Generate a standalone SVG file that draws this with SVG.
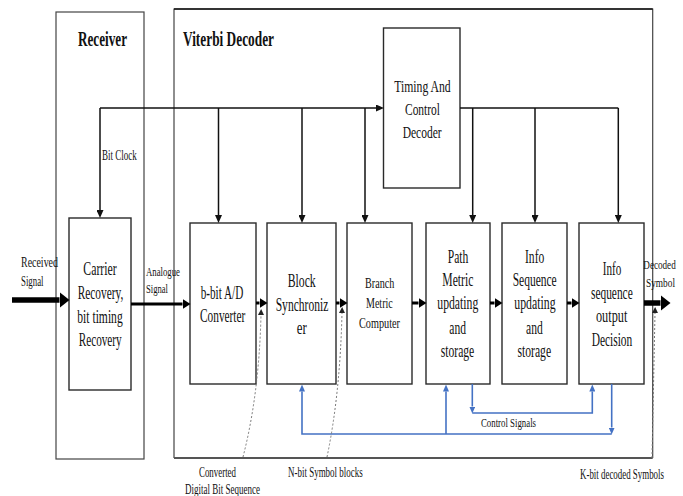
<svg xmlns="http://www.w3.org/2000/svg" width="683" height="496" viewBox="0 0 683 496">
  <style>
    text { font-family: "Liberation Serif", "Times New Roman", serif; fill: #111; }
    .head { font-size: 21px; font-weight: bold; }
    .main { font-size: 18px; }
    .mid { font-size: 15px; }
    .tc { font-size: 16px; }
    .lbl { font-size: 14px; }
    .sm { font-size: 13px; }
    .frame { fill: none; stroke: #444; stroke-width: 1.2; }
    .box { fill: #fff; stroke: #2a2a2a; stroke-width: 1.4; }
    .bus { fill: none; stroke: #111; stroke-width: 1.5; }
    .thick { fill: none; stroke: #000; stroke-width: 3; }
    .fat { fill: none; stroke: #000; stroke-width: 5.5; }
    .ctl { fill: none; stroke: #4472C4; stroke-width: 1.6; }
    .dot { fill: none; stroke: #777; stroke-width: 1; stroke-dasharray: 2 2; }
  </style>
  <defs>
    <marker id="a-s" markerUnits="userSpaceOnUse" markerWidth="8" markerHeight="7" refX="0" refY="3.5" orient="auto">
      <path d="M0,0 L8,3.5 L0,7 z" fill="#111"/>
    </marker>
    <marker id="a-m" markerUnits="userSpaceOnUse" markerWidth="8" markerHeight="10" refX="0" refY="5" orient="auto">
      <path d="M0,0 L8,5 L0,10 z" fill="#000"/>
    </marker>
    <marker id="a-l" markerUnits="userSpaceOnUse" markerWidth="10" markerHeight="16" refX="0" refY="8" orient="auto">
      <path d="M0,0 L10,8 L0,16 z" fill="#000"/>
    </marker>
    <marker id="a-b" markerUnits="userSpaceOnUse" markerWidth="7" markerHeight="6" refX="0" refY="3" orient="auto">
      <path d="M0,0 L7,3 L0,6 z" fill="#4472C4"/>
    </marker>
    <marker id="a-d" markerUnits="userSpaceOnUse" markerWidth="6" markerHeight="6" refX="0" refY="3" orient="auto">
      <path d="M0,0 L6,3 L0,6 z" fill="#222"/>
    </marker>
  </defs>

  <!-- enclosing frames -->
  <g id="receiver">
    <rect class="frame" x="56" y="12" width="88" height="447"/>
    <text class="head" x="78" y="46" textLength="49" lengthAdjust="spacingAndGlyphs">Receiver</text>
  </g>
  <g id="viterbi-decoder">
    <path d="M174,458 V9 H652.7 V458" fill="none" stroke="#444" stroke-width="1.2"/>
    <line x1="174" y1="9" x2="652.7" y2="9" stroke="#111" stroke-width="1.5"/>
    <line x1="174" y1="458" x2="652.7" y2="458" stroke="#555" stroke-width="2"/>
    <text class="head" x="183" y="46" textLength="91" lengthAdjust="spacingAndGlyphs">Viterbi Decoder</text>
  </g>

  <!-- processing blocks -->
  <g id="timing-control">
    <rect class="box" x="383.5" y="28" width="76.5" height="160"/>
    <text class="tc" x="394.3" y="92" textLength="56.4" lengthAdjust="spacingAndGlyphs">Timing And</text>
    <text class="tc" x="405" y="115" textLength="35" lengthAdjust="spacingAndGlyphs">Control</text>
    <text class="tc" x="402.7" y="138.3" textLength="39" lengthAdjust="spacingAndGlyphs">Decoder</text>
  </g>
  <g id="carrier-recovery">
    <rect class="box" x="69" y="218" width="62" height="172"/>
    <text class="main" x="83.3" y="275" textLength="33.4" lengthAdjust="spacingAndGlyphs">Carrier</text>
    <text class="main" x="77.7" y="299" textLength="45.6" lengthAdjust="spacingAndGlyphs">Recovery,</text>
    <text class="main" x="77.3" y="322.7" textLength="45.4" lengthAdjust="spacingAndGlyphs">bit timing</text>
    <text class="main" x="78.7" y="346" textLength="43" lengthAdjust="spacingAndGlyphs">Recovery</text>
  </g>
  <g id="ad-converter">
    <rect class="box" x="190" y="223" width="66" height="161"/>
    <text class="main" x="200.7" y="299.3" textLength="42.6" lengthAdjust="spacingAndGlyphs">b-bit A/D</text>
    <text class="main" x="200" y="321.7" textLength="45.3" lengthAdjust="spacingAndGlyphs">Converter</text>
  </g>
  <g id="block-synchronizer">
    <rect class="box" x="267" y="223" width="69" height="161"/>
    <text class="main" x="287.7" y="286.7" textLength="28" lengthAdjust="spacingAndGlyphs">Block</text>
    <text class="main" x="275.7" y="311" textLength="52.6" lengthAdjust="spacingAndGlyphs">Synchroniz</text>
    <text class="main" x="296.7" y="334" textLength="10" lengthAdjust="spacingAndGlyphs">er</text>
  </g>
  <g id="branch-metric">
    <rect class="box" x="347" y="223" width="65" height="161"/>
    <text class="mid" x="365" y="288.3" textLength="29.3" lengthAdjust="spacingAndGlyphs">Branch</text>
    <text class="mid" x="366" y="308.3" textLength="26.7" lengthAdjust="spacingAndGlyphs">Metric</text>
    <text class="mid" x="359" y="328.3" textLength="41" lengthAdjust="spacingAndGlyphs">Computer</text>
  </g>
  <g id="path-metric">
    <rect class="box" x="426" y="223" width="64" height="161"/>
    <text class="main" x="447.7" y="262.7" textLength="20.6" lengthAdjust="spacingAndGlyphs">Path</text>
    <text class="main" x="442.3" y="286" textLength="31" lengthAdjust="spacingAndGlyphs">Metric</text>
    <text class="main" x="437.3" y="309.3" textLength="41" lengthAdjust="spacingAndGlyphs">updating</text>
    <text class="main" x="449.3" y="334" textLength="16.7" lengthAdjust="spacingAndGlyphs">and</text>
    <text class="main" x="440.7" y="357.3" textLength="33.6" lengthAdjust="spacingAndGlyphs">storage</text>
  </g>
  <g id="info-sequence-update">
    <rect class="box" x="502" y="223" width="65" height="161"/>
    <text class="main" x="525" y="262.7" textLength="19.3" lengthAdjust="spacingAndGlyphs">Info</text>
    <text class="main" x="512.7" y="286" textLength="44" lengthAdjust="spacingAndGlyphs">Sequence</text>
    <text class="main" x="514.3" y="309.3" textLength="41.3" lengthAdjust="spacingAndGlyphs">updating</text>
    <text class="main" x="526" y="334" textLength="16.7" lengthAdjust="spacingAndGlyphs">and</text>
    <text class="main" x="517.5" y="357.3" textLength="33.6" lengthAdjust="spacingAndGlyphs">storage</text>
  </g>
  <g id="info-sequence-output">
    <rect class="box" x="579" y="223" width="65" height="161"/>
    <text class="main" x="602.7" y="275" textLength="18.6" lengthAdjust="spacingAndGlyphs">Info</text>
    <text class="main" x="591" y="299.3" textLength="41.7" lengthAdjust="spacingAndGlyphs">sequence</text>
    <text class="main" x="596" y="321.7" textLength="31.3" lengthAdjust="spacingAndGlyphs">output</text>
    <text class="main" x="591.7" y="346" textLength="40.6" lengthAdjust="spacingAndGlyphs">Decision</text>
  </g>

  <!-- connectors -->
  <g id="connectors">
    <!-- clock / timing bus -->
    <path class="bus" d="M100,108 H376" marker-end="url(#a-s)"/>
    <path class="bus" d="M100,108 V210" marker-end="url(#a-s)"/>
    <path class="bus" d="M218.5,108 V215" marker-end="url(#a-s)"/>
    <path class="bus" d="M302,108 V215" marker-end="url(#a-s)"/>
    <path class="bus" d="M365,108 V215" marker-end="url(#a-s)"/>
    <path class="bus" d="M460,108 H618.3"/>
    <path class="bus" d="M472.7,108 V215" marker-end="url(#a-s)"/>
    <path class="bus" d="M535,108 V215" marker-end="url(#a-s)"/>
    <path class="bus" d="M618.3,108 V215" marker-end="url(#a-s)"/>

    <!-- data path -->
    <path class="fat" d="M12,300 H59.5" marker-end="url(#a-l)"/>
    <path class="thick" d="M131,304 H182.5" marker-end="url(#a-m)"/>
    <path class="thick" d="M256,303 H259.5" marker-end="url(#a-m)"/>
    <path class="thick" d="M336,303 H339.5" marker-end="url(#a-m)"/>
    <path class="thick" d="M412,303 H418.5" marker-end="url(#a-m)"/>
    <path class="thick" d="M490,303 H494.5" marker-end="url(#a-m)"/>
    <path class="thick" d="M567,303 H571.5" marker-end="url(#a-m)"/>
    <path class="fat" d="M644,303 H660.5" marker-end="url(#a-l)"/>

    <!-- control signal feedback -->
    <path class="ctl" d="M611.7,384 V427.5" marker-end="url(#a-b)"/>
    <path class="ctl" d="M611.7,434 H302 V391.5" marker-end="url(#a-b)"/>
    <path class="ctl" d="M446,434 V391.5" marker-end="url(#a-b)"/>
    <path class="ctl" d="M472.3,384 V406.5" marker-end="url(#a-b)"/>
    <path class="ctl" d="M472.3,413 H592.3 V391.5" marker-end="url(#a-b)"/>

    <!-- annotation leaders -->
    <path class="dot" d="M243,457 Q259,395 261,315" marker-end="url(#a-d)"/>
    <path class="dot" d="M327,457 Q340,395 342,313" marker-end="url(#a-d)"/>
    <path class="dot" d="M652,458 L655,313" marker-end="url(#a-d)"/>
  </g>

  <!-- signal labels -->
  <g id="labels">
    <text class="lbl" x="102" y="159.5" textLength="34.7" lengthAdjust="spacingAndGlyphs">Bit Clock</text>
    <text class="lbl" x="21" y="267" textLength="37" lengthAdjust="spacingAndGlyphs">Received</text>
    <text class="lbl" x="21" y="286" textLength="22.5" lengthAdjust="spacingAndGlyphs">Signal</text>
    <text class="sm" x="146" y="276" textLength="34" lengthAdjust="spacingAndGlyphs">Analogue</text>
    <text class="sm" x="146" y="293" textLength="22" lengthAdjust="spacingAndGlyphs">Signal</text>
    <text class="sm" x="643.3" y="269.3" textLength="32.4" lengthAdjust="spacingAndGlyphs">Decoded</text>
    <text class="sm" x="646" y="286.7" textLength="29" lengthAdjust="spacingAndGlyphs">Symbol</text>
    <text class="sm" x="481" y="427" textLength="55" lengthAdjust="spacingAndGlyphs">Control Signals</text>
    <text class="lbl" x="199" y="477" textLength="37" lengthAdjust="spacingAndGlyphs">Converted</text>
    <text class="lbl" x="185" y="494" textLength="75" lengthAdjust="spacingAndGlyphs">Digital Bit Sequence</text>
    <text class="lbl" x="288" y="477" textLength="74.7" lengthAdjust="spacingAndGlyphs">N-bit Symbol blocks</text>
    <text class="lbl" x="580" y="479" textLength="84" lengthAdjust="spacingAndGlyphs">K-bit decoded Symbols</text>
  </g>
</svg>
